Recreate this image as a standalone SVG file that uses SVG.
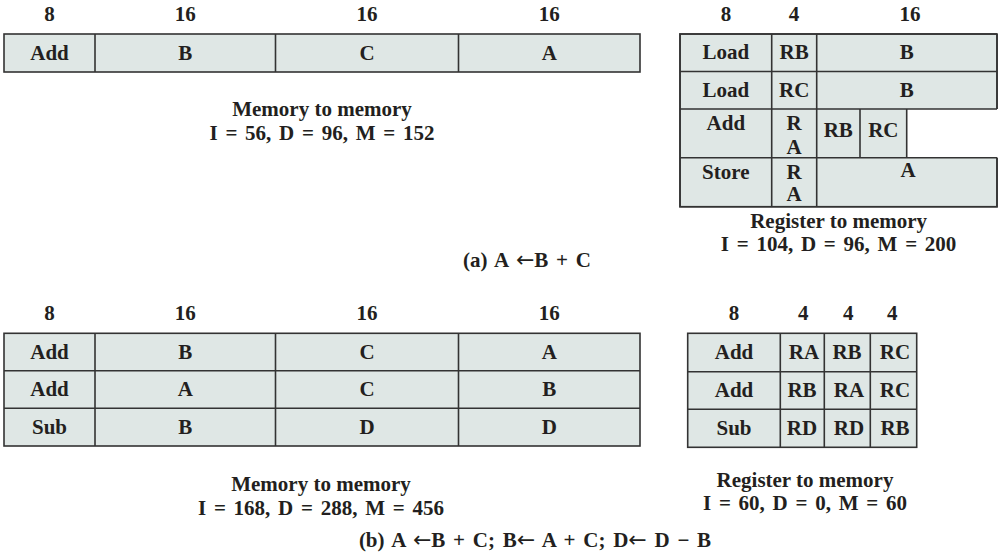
<svg xmlns="http://www.w3.org/2000/svg" width="998" height="553" viewBox="0 0 998 553">
<style>
text{font-family:"Liberation Serif","Times New Roman",serif;font-weight:bold;font-size:21px;fill:#231f20;text-anchor:middle}
.eq{word-spacing:2.5px}
.ar{font-family:"DejaVu Sans",sans-serif;font-weight:normal;font-size:22px}
.cell{fill:#dfe7e5;stroke:#333;stroke-width:1.6}
.ln{stroke:#333;stroke-width:1.6;fill:none}
</style>
<rect width="998" height="553" fill="#fff"/>

<g id="a-mem">
<text x="49.5" y="20.5">8</text><text x="185.3" y="20.5">16</text><text x="367" y="20.5">16</text><text x="549.3" y="20.5">16</text>
<rect class="cell" x="4" y="34" width="636" height="38"/>
<path class="ln" d="M95 34V72M275.5 34V72M458.5 34V72"/>
<text x="49.5" y="60">Add</text><text x="185.3" y="60">B</text><text x="367" y="60">C</text><text x="549.3" y="60">A</text>
<text x="322" y="116">Memory to memory</text>
<text class="eq" x="322" y="139.5">I = 56, D = 96, M = 152</text>
</g>

<g id="a-reg">
<text x="726" y="20.5">8</text><text x="794" y="20.5">4</text><text x="910" y="20.5">16</text>
<rect class="cell" x="680" y="34" width="317" height="172.7" stroke="none"/>
<rect x="906.7" y="109" width="91.3" height="48.7" fill="#fff"/>
<path class="ln" d="M997 34H680V206.7H997V157.7M997 109V34M680 71.5H997M680 109H997M680 157.7H997M771.7 34V206.7M816.7 34V206.7M860 109V157.7M906.7 109V157.7"/>
<text x="725.8" y="59.3">Load</text><text x="794.2" y="59.3">RB</text><text x="906.8" y="59.3">B</text>
<text x="725.8" y="96.7">Load</text><text x="794.2" y="96.7">RC</text><text x="906.8" y="96.7">B</text>
<text x="725.8" y="130">Add</text><text x="794.2" y="130">R</text><text x="794.2" y="154">A</text><text x="838.3" y="136.7">RB</text><text x="883.3" y="136.7">RC</text>
<text x="725.8" y="179">Store</text><text x="794.2" y="179">R</text><text x="794.2" y="201">A</text><text x="908" y="176.7">A</text>
<text x="838.6" y="228.3">Register to memory</text>
<text class="eq" x="838.6" y="251">I = 104, D = 96, M = 200</text>
</g>

<g id="a-caption"><text class="eq" x="527" y="266.7">(a) A <tspan class="ar">←</tspan>B + C</text></g>

<g id="b-mem">
<text x="49.5" y="320">8</text><text x="185.3" y="320">16</text><text x="367" y="320">16</text><text x="549.3" y="320">16</text>
<rect class="cell" x="4" y="333.3" width="636" height="112.7"/>
<path class="ln" d="M4 370.7H640M4 408.3H640M95 333.3V446M275.5 333.3V446M458.5 333.3V446"/>
<text x="49.5" y="358.8">Add</text><text x="185.3" y="358.8">B</text><text x="367" y="358.8">C</text><text x="549.3" y="358.8">A</text>
<text x="49.5" y="396.3">Add</text><text x="185.3" y="396.3">A</text><text x="367" y="396.3">C</text><text x="549.3" y="396.3">B</text>
<text x="49.5" y="433.9">Sub</text><text x="185.3" y="433.9">B</text><text x="367" y="433.9">D</text><text x="549.3" y="433.9">D</text>
<text x="321" y="491">Memory to memory</text>
<text class="eq" x="321" y="515">I = 168, D = 288, M = 456</text>
</g>

<g id="b-reg">
<text x="734" y="320">8</text><text x="803.3" y="320">4</text><text x="848.3" y="320">4</text><text x="892.3" y="320">4</text>
<rect class="cell" x="687.7" y="333.3" width="229" height="114"/>
<path class="ln" d="M687.7 371.7H916.7M687.7 409.3H916.7M780.3 333.3V447.3M824.3 333.3V447.3M870.3 333.3V447.3"/>
<text x="734" y="359.3">Add</text><text x="804" y="359.3">RA</text><text x="847" y="359.3">RB</text><text x="895" y="359.3">RC</text>
<text x="734" y="396.7">Add</text><text x="802" y="396.7">RB</text><text x="849" y="396.7">RA</text><text x="895" y="396.7">RC</text>
<text x="734" y="435">Sub</text><text x="802" y="435">RD</text><text x="849" y="435">RD</text><text x="895" y="435">RB</text>
<text x="805" y="487">Register to memory</text>
<text class="eq" x="805" y="510">I = 60, D = 0, M = 60</text>
</g>

<g id="b-caption"><text class="eq" x="535" y="547">(b) A <tspan class="ar">←</tspan>B + C; B<tspan class="ar">←</tspan> A + C; D<tspan class="ar">←</tspan> D − B</text></g>
<g id="connectors"/>
</svg>
